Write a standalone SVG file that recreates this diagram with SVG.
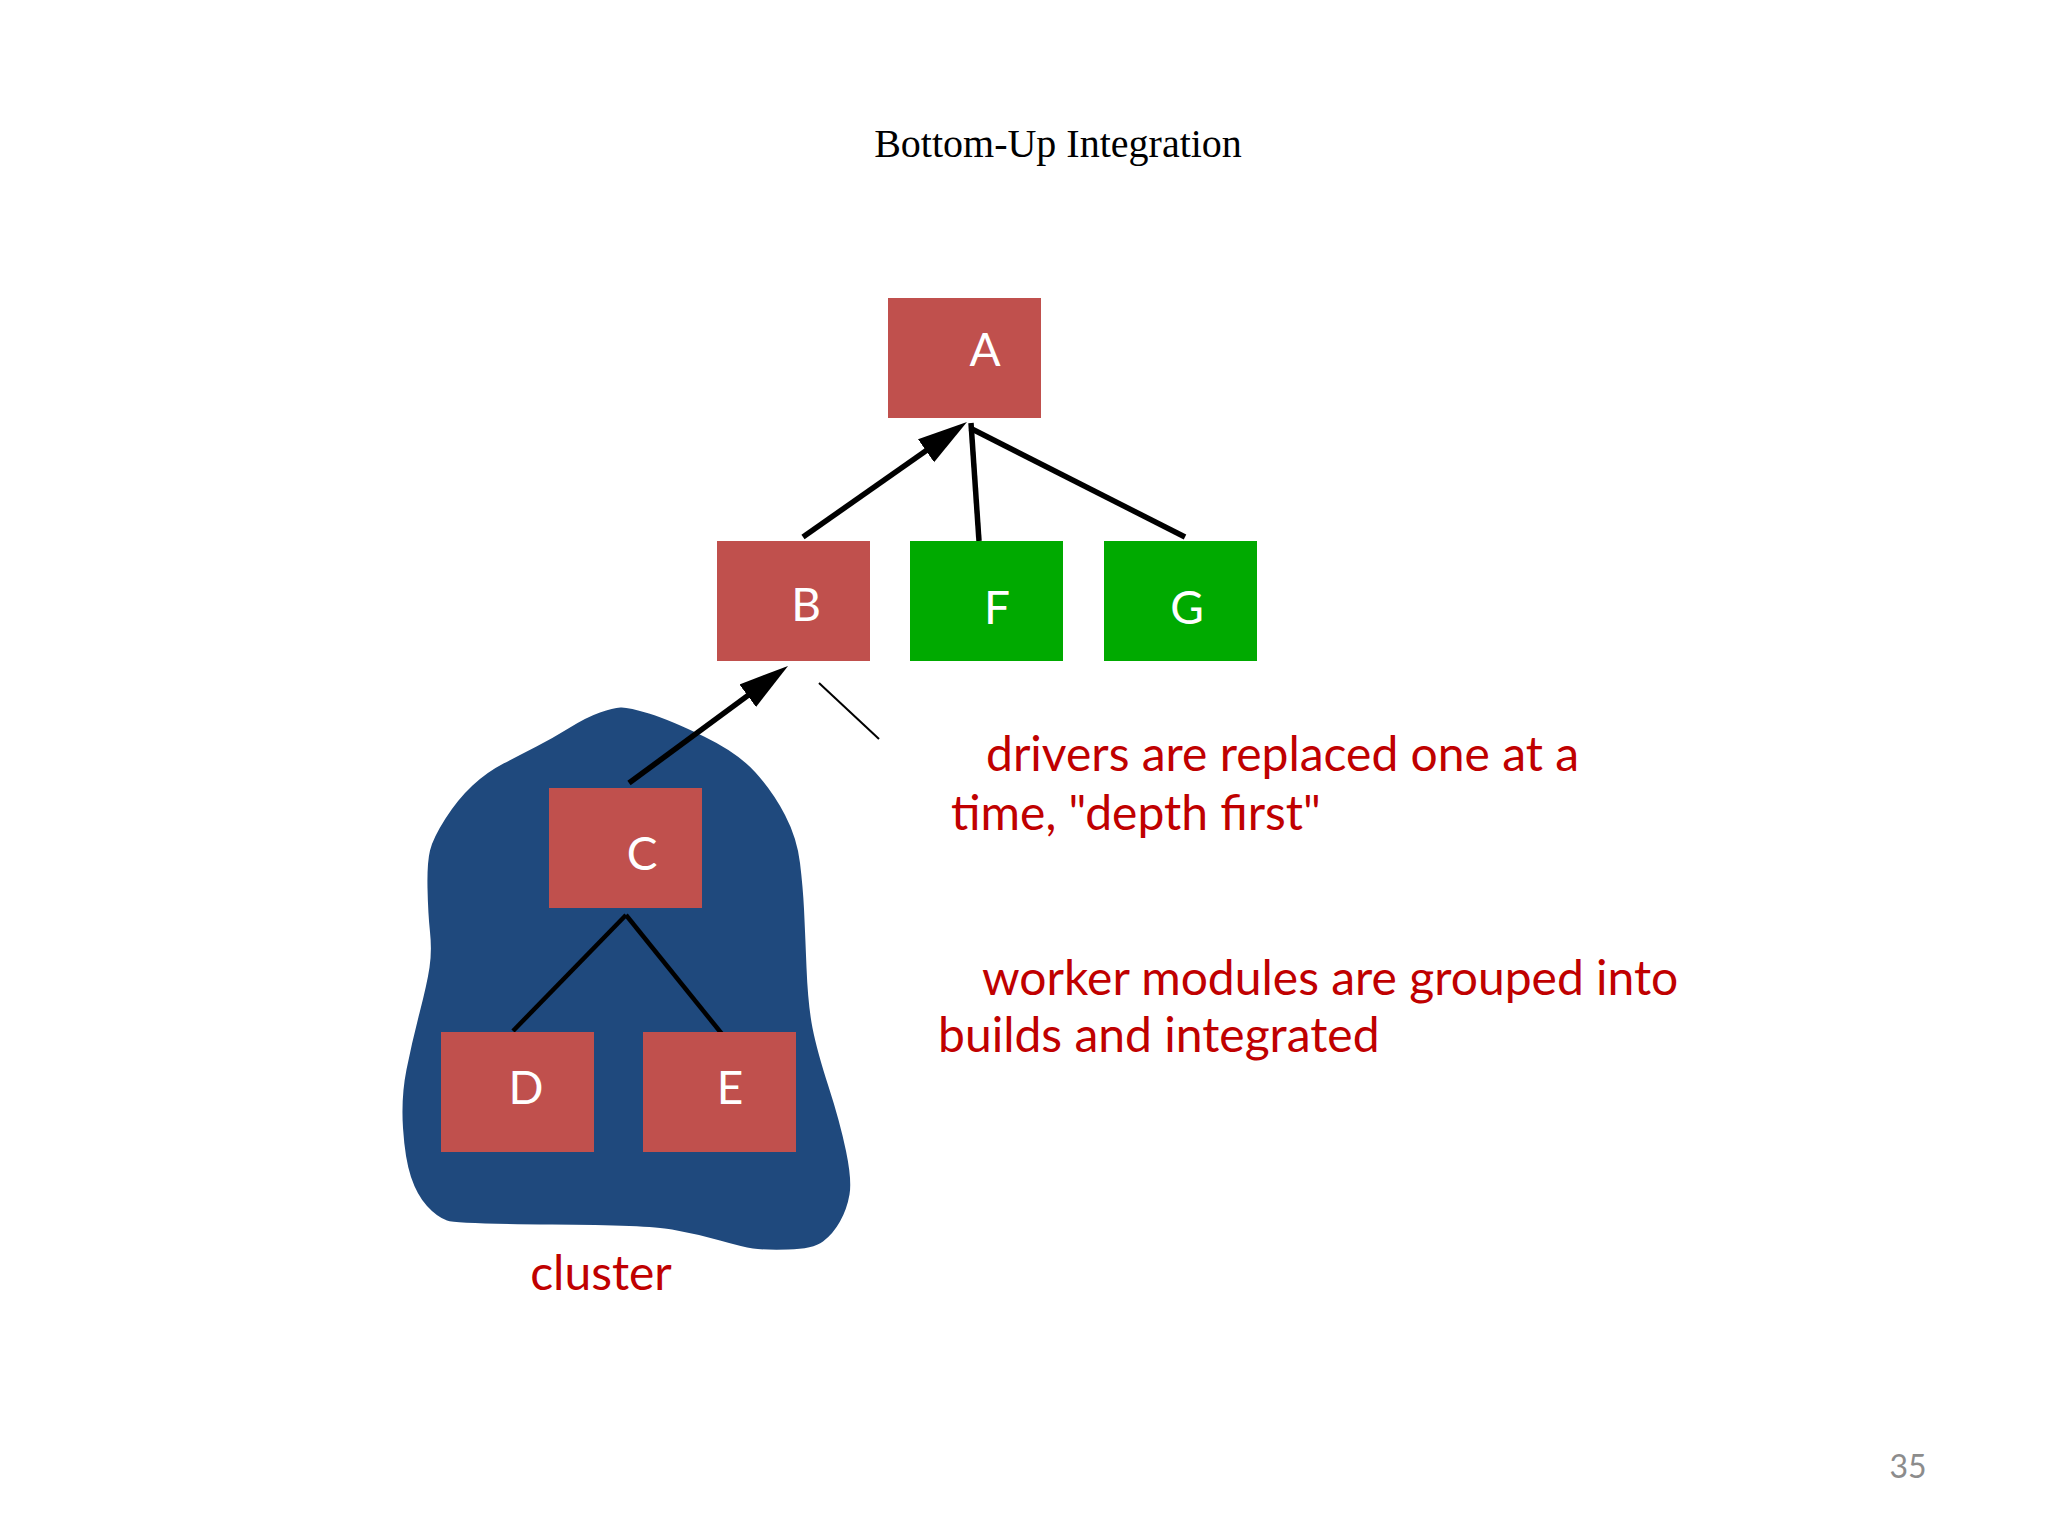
<svg xmlns="http://www.w3.org/2000/svg" width="2048" height="1536" viewBox="0 0 2048 1536">
<style>
.red{fill:#c0504d}
.green{fill:#00aa00}
.lbl{font-family:Lato,"Liberation Sans",sans-serif;font-size:46px;fill:#ffffff;text-anchor:middle}
.note{font-family:Lato,"Liberation Sans",sans-serif;font-size:48px;fill:#c00000}
.edge{stroke:#000;fill:none;stroke-width:5.5}
.edge2{stroke:#000;fill:none;stroke-width:4.5}
</style>
<defs>
<marker id="arr" markerUnits="userSpaceOnUse" markerWidth="52" markerHeight="30" refX="30" refY="14" orient="auto" viewBox="0 0 52 28">
<path d="M0,0 L50,14 L0,28 z" fill="#000"/>
</marker>
</defs>
<rect width="2048" height="1536" fill="#fff"/>
<text x="1058" y="157" font-family="'Liberation Serif',serif" font-size="40" text-anchor="middle" fill="#000">Bottom-Up Integration</text>
<g id="cluster">
<path fill="#1f497d" d="M620.5,707.5 Q628,707 649,713.5 Q670,720 704,736.5 Q738,753 755.5,772.5 Q773,792 785,815 Q797,838 800,863 Q803,888 804,909 Q805,930 806.5,967.5 Q808,1005 812.5,1028 Q817,1051 828.5,1086.5 Q840,1122 846,1151 Q852,1180 849.5,1194.5 Q847,1209 840,1221.5 Q833,1234 823,1241.5 Q813,1249 788,1249.5 Q763,1250 753,1248.5 Q743,1247 720,1240.5 Q697,1234 672,1229.5 Q647,1225 552,1224.5 Q457,1224 447,1220.5 Q437,1217 427,1206 Q417,1195 411,1177 Q405,1159 403,1128 Q401,1097 406.5,1069.5 Q412,1042 419.5,1013 Q427,984 429.5,967.5 Q432,951 430,932 Q428,913 427.5,888 Q427,863 430,850.5 Q433,838 445.5,818.5 Q458,799 472.5,785.5 Q487,772 503.5,763.5 Q520,755 536.5,746.5 Q553,738 570,727.5 Q587,717 600,712.5 Q613,708 620.5,707.5 Z"/>
<text x="601" y="1290" class="note" text-anchor="middle">cluster</text>
</g>
<g id="connectors">
<line class="edge" x1="803" y1="537" x2="950.6" y2="433.5" marker-end="url(#arr)"/>
<line class="edge" x1="979" y1="541" x2="971" y2="423"/>
<line class="edge" x1="1185" y1="537" x2="970" y2="428"/>
<line class="edge" x1="629" y1="783" x2="771.9" y2="677.9" marker-end="url(#arr)"/>
<line stroke="#000" stroke-width="2" x1="819" y1="683" x2="879" y2="739"/>
<line class="edge2" x1="626" y1="915" x2="513" y2="1031"/>
<line class="edge2" x1="626" y1="915" x2="722" y2="1034"/>
</g>
<g id="A"><rect class="red" x="888" y="298" width="153" height="120"/><text class="lbl" x="985" y="366">A</text></g>
<g id="B"><rect class="red" x="717" y="541" width="153" height="120"/><text class="lbl" x="806" y="621">B</text></g>
<g id="F"><rect class="green" x="910" y="541" width="153" height="120"/><text class="lbl" x="997" y="624">F</text></g>
<g id="G"><rect class="green" x="1104" y="541" width="153" height="120"/><text class="lbl" x="1187" y="624">G</text></g>
<g id="C"><rect class="red" x="549" y="788" width="153" height="120"/><text class="lbl" x="642" y="870">C</text></g>
<g id="D"><rect class="red" x="441" y="1032" width="153" height="120"/><text class="lbl" x="526" y="1104">D</text></g>
<g id="E"><rect class="red" x="643" y="1032" width="153" height="120"/><text class="lbl" x="730" y="1104">E</text></g>
<g id="notes">
<text class="note" x="986" y="771">drivers are replaced one at a</text>
<text class="note" x="951" y="830">time, "depth first"</text>
<text class="note" x="982" y="995">worker modules are grouped into</text>
<text class="note" x="938" y="1052">builds and integrated</text>
</g>
<text x="1908" y="1478" font-family="Lato,'Liberation Sans',sans-serif" font-size="32" fill="#8c8c8c" text-anchor="middle">35</text>
</svg>
